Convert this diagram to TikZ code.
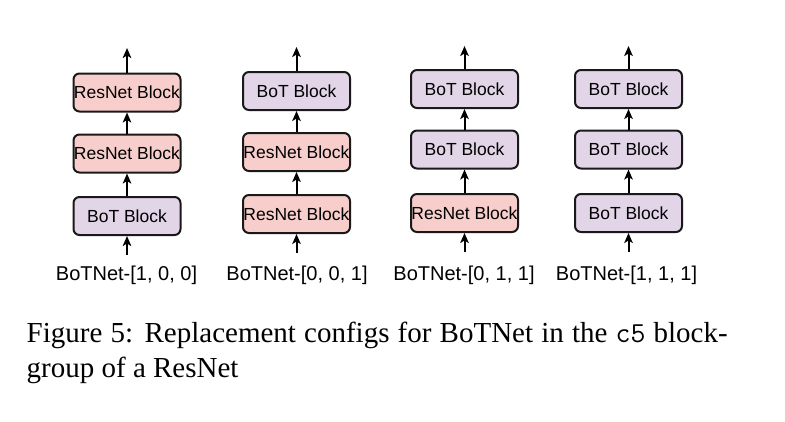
\documentclass[tikz,border=0pt]{standalone}
\usepackage{fontspec}
\setmainfont{Liberation Serif}
\newfontfamily\blokkfont{Liberation Sans}
\usetikzlibrary{arrows.meta}
\definecolor{resfarge}{HTML}{F8CECC}
\definecolor{botfarge}{HTML}{E1D5E7}
\begin{document}
\begin{tikzpicture}[x=1pt,y=-1pt,
    blokk/.style={draw=black!90,line width=2pt,rounded corners=6pt,minimum width=107pt,minimum height=38pt,inner sep=0pt,font=\blokkfont\fontsize{17.5}{20}\selectfont},
    res/.style={blokk,fill=resfarge},
    bot/.style={blokk,fill=botfarge},
    pil/.style={line width=2pt,-{Stealth[length=10pt,width=8.5pt,inset=2.5pt]}},
    navn/.style={font=\blokkfont\fontsize{20}{24}\selectfont,anchor=base,inner sep=0pt}]
    \useasboundingbox (0,0) rectangle (785,421);

    %Kolonne 1
        \node[bot] (k1b) at (127,216) {BoT Block};
        \node[res] (k1m) at (127,153.5) {ResNet Block};
        \node[res] (k1t) at (127,92.5) {ResNet Block};
        \coordinate (k1inn) at (127,255);
        \coordinate (k1ut) at (127,48);
        \draw[pil] (k1inn)--(k1b);
        \draw[pil] (k1b)--(k1m);
        \draw[pil] (k1m)--(k1t);
        \draw[pil] (k1t)--(k1ut);
        \node[navn] (n1) at (126.5,280) {BoTNet-[1, 0, 0]};

    %Kolonne 2
        \node[res] (k2b) at (296.5,214) {ResNet Block};
        \node[res] (k2m) at (296.5,152) {ResNet Block};
        \node[bot] (k2t) at (296.5,91) {BoT Block};
        \coordinate (k2inn) at (296.5,253);
        \coordinate (k2ut) at (296.5,47);
        \draw[pil] (k2inn)--(k2b);
        \draw[pil] (k2b)--(k2m);
        \draw[pil] (k2m)--(k2t);
        \draw[pil] (k2t)--(k2ut);
        \node[navn] (n2) at (297,280) {BoTNet-[0, 0, 1]};

    %Kolonne 3
        \node[res] (k3b) at (464.5,213) {ResNet Block};
        \node[bot] (k3m) at (464.5,149.5) {BoT Block};
        \node[bot] (k3t) at (464.5,89) {BoT Block};
        \coordinate (k3inn) at (464.5,252);
        \coordinate (k3ut) at (464.5,46);
        \draw[pil] (k3inn)--(k3b);
        \draw[pil] (k3b)--(k3m);
        \draw[pil] (k3m)--(k3t);
        \draw[pil] (k3t)--(k3ut);
        \node[navn] (n3) at (464,280) {BoTNet-[0, 1, 1]};

    %Kolonne 4
        \node[bot] (k4b) at (628.5,213) {BoT Block};
        \node[bot] (k4m) at (628.5,149.5) {BoT Block};
        \node[bot] (k4t) at (628.5,89) {BoT Block};
        \coordinate (k4inn) at (628.5,252);
        \coordinate (k4ut) at (628.5,46);
        \draw[pil] (k4inn)--(k4b);
        \draw[pil] (k4b)--(k4m);
        \draw[pil] (k4m)--(k4t);
        \draw[pil] (k4t)--(k4ut);
        \node[navn] (n4) at (626.5,280) {BoTNet-[1, 1, 1]};

    %Tekst
        \node[anchor=base west,inner sep=0pt,font=\fontsize{29}{35}\selectfont] (tekst1) at (26.5,342) {\makebox[701pt][s]{Figure 5: Replacement configs for BoTNet in the \texttt{c5} block-}};
        \node[anchor=base west,inner sep=0pt,font=\fontsize{29}{35}\selectfont] (tekst2) at (26.5,377.5) {group of a ResNet};
\end{tikzpicture}
\end{document}
